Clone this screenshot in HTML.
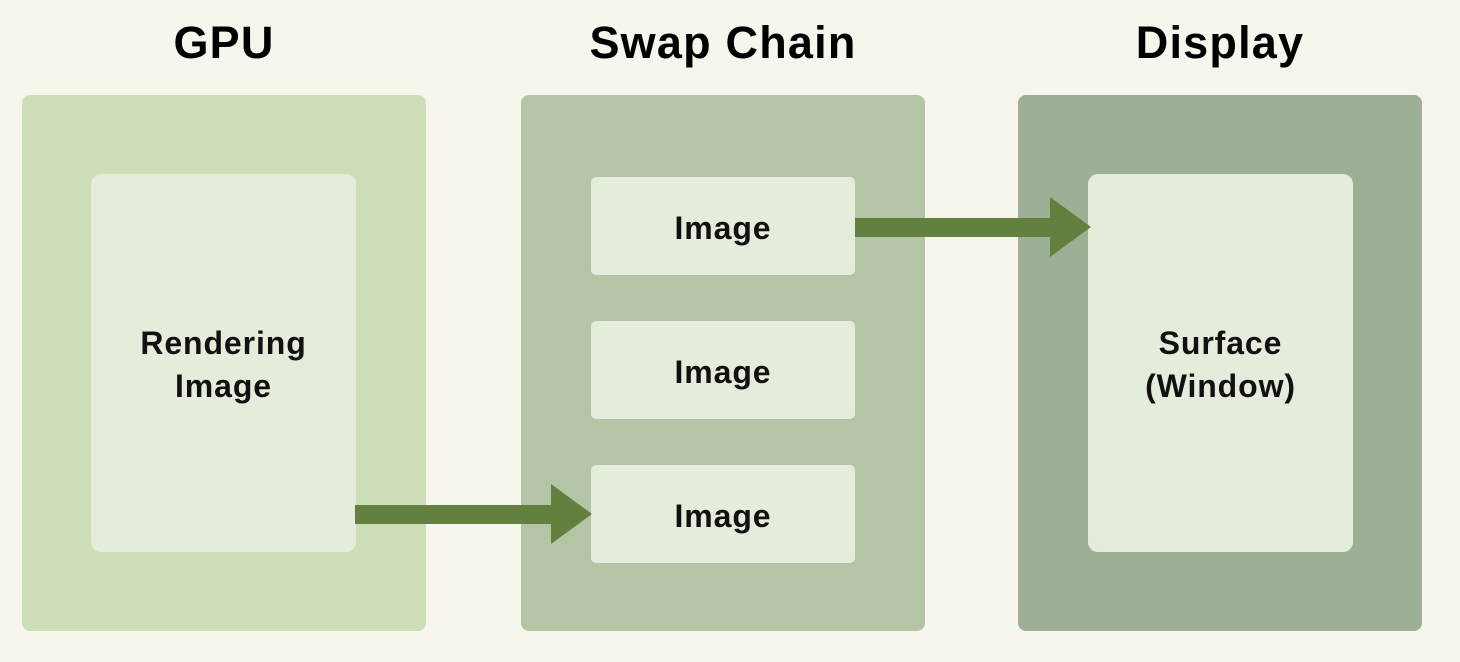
<!DOCTYPE html>
<html><head><meta charset="utf-8"><style>
html,body{margin:0;padding:0}
body{width:1460px;height:662px;background:#f6f6ec;position:relative;overflow:hidden;font-family:"Liberation Sans",sans-serif;}
.t{position:absolute;top:14px;width:404px;text-align:center;font-weight:bold;font-size:45px;line-height:58px;color:#000;letter-spacing:1.2px}
.p{position:absolute;top:95px;width:404px;height:536px;border-radius:8px}
.b{position:absolute;background:#e4eddb;border-radius:10px;display:flex;align-items:center;justify-content:center;text-align:center;font-weight:bold;font-size:32px;line-height:43px;color:#111;letter-spacing:0.9px;box-sizing:border-box;padding-top:4px}
.s{border-radius:5px}
</style></head><body>
<div class="t" style="left:22px">GPU</div>
<div class="t" style="left:521px">Swap Chain</div>
<div class="t" style="left:1018px">Display</div>
<div class="p" style="left:22px;background:#cddfb8"></div>
<div class="p" style="left:521px;background:#b3c5a5"></div>
<div class="p" style="left:1018px;background:#9db095"></div>
<div class="b" style="left:91px;top:174px;width:265px;height:378px">Rendering<br>Image</div>
<div class="b s" style="left:591px;top:177px;width:264px;height:98px">Image</div>
<div class="b s" style="left:591px;top:321px;width:264px;height:98px">Image</div>
<div class="b s" style="left:591px;top:465px;width:264px;height:98px">Image</div>
<div class="b" style="left:1088px;top:174px;width:265px;height:378px">Surface<br>(Window)</div>
<svg width="1460" height="662" style="position:absolute;left:0;top:0">
<g fill="#64803f">
<rect x="355" y="505" width="198" height="19"/>
<polygon points="551,484 592,514 551,544"/>
<rect x="855" y="218" width="197" height="19"/>
<polygon points="1050,197 1091,227 1050,257"/>
</g></svg>
</body></html>
